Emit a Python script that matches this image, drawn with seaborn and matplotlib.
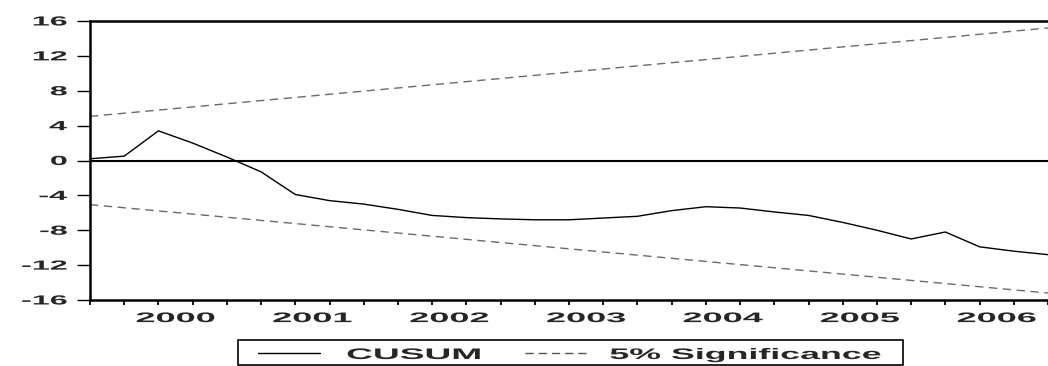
import numpy as np
import pandas as pd
import matplotlib
matplotlib.use('Agg')
import matplotlib.pyplot as plt
import seaborn as sns
from matplotlib.patheffects import AbstractPathEffect
from matplotlib.transforms import Affine2D
from matplotlib.lines import Line2D
from matplotlib.patches import Rectangle

# Quarterly observations
quarters = ['1999Q4',
            '2000Q1', '2000Q2', '2000Q3', '2000Q4',
            '2001Q1', '2001Q2', '2001Q3', '2001Q4',
            '2002Q1', '2002Q2', '2002Q3', '2002Q4',
            '2003Q1', '2003Q2', '2003Q3', '2003Q4',
            '2004Q1', '2004Q2', '2004Q3', '2004Q4',
            '2005Q1', '2005Q2', '2005Q3', '2005Q4',
            '2006Q1', '2006Q2', '2006Q3', '2006Q4']
cusum = [0.2, 0.5, 3.4, 2.0, 0.4, -1.3, -3.9, -4.6, -5.0, -5.6,
         -6.3, -6.55, -6.7, -6.8, -6.8, -6.6, -6.4, -5.75, -5.3, -5.45,
         -5.9, -6.3, -7.1, -8.0, -9.0, -8.2, -9.9, -10.4, -10.8]
# 5% bounds are straight lines: values at first and last quarter
bound_quarters = ['1999Q4', '2006Q4']
upper_bound = [5.06, 15.2]
lower_bound = [-5.06, -15.2]
year_labels = ['2000', '2001', '2002', '2003', '2004', '2005', '2006']
y_ticks = [-16, -12, -8, -4, 0, 4, 8, 12, 16]


class Stretch(AbstractPathEffect):
    """Widen text glyphs horizontally (the scan is stretched)."""
    def __init__(self, sx=2.4, anchor='center'):
        super().__init__()
        self.sx = sx
        self.anchor = anchor

    def draw_path(self, renderer, gc, tpath, affine, rgbFace=None):
        ext = tpath.get_extents(affine)
        if self.anchor == 'left':
            x0 = ext.x0
        elif self.anchor == 'right':
            x0 = ext.x1
        else:
            x0 = (ext.x0 + ext.x1) / 2
        aff = affine + Affine2D().translate(-x0, 0).scale(self.sx, 1).translate(x0, 0)
        renderer.draw_path(gc, tpath, aff, rgbFace)


pos = {q: i for i, q in enumerate(quarters)}
df = pd.DataFrame({'x': [pos[q] for q in quarters], 'cusum': cusum})
bounds = pd.DataFrame({'x': [pos[q] for q in bound_quarters],
                       'upper': upper_bound, 'lower': lower_bound})

sns.set_style('white')
plt.rcParams['font.family'] = ['Liberation Sans', 'DejaVu Sans']
plt.rcParams['font.weight'] = 'bold'

W, H = 1048, 366
fig = plt.figure(figsize=(W / 100, H / 100), dpi=100)
ax = fig.add_axes([90 / W, (H - 300) / H, (W - 90) / W, 279 / H])

ax.axhline(0, color='black', lw=1.5, zorder=1)
sns.lineplot(data=df, x='x', y='cusum', color='black', lw=1.0, ax=ax, zorder=3)
sns.lineplot(data=bounds, x='x', y='upper', color='#6a6a6a', lw=1.0,
             linestyle=(0, (6, 4)), ax=ax)
sns.lineplot(data=bounds, x='x', y='lower', color='#6a6a6a', lw=1.0,
             linestyle=(0, (6, 4)), ax=ax)

ax.set_xlim(0, (W - 90) / 34.5)
ax.set_ylim(-16, 16)
ax.set_xlabel('')
ax.set_ylabel('')

for side in ['left', 'top', 'bottom']:
    ax.spines[side].set_color('black')
    ax.spines[side].set_linewidth(1.8)
ax.spines['right'].set_visible(False)

# year labels centred on their four quarters
centers = [np.mean([pos[f'{y}Q{k}'] for k in range(1, 5)]) for y in year_labels]
ax.set_xticks(centers)
ax.set_xticklabels(year_labels)
ax.set_xticks(range(len(quarters)), minor=True)
ax.tick_params(axis='x', which='major', length=0, pad=8, labelsize=10)
ax.tick_params(axis='x', which='minor', direction='out', length=3.6, width=1.3,
               color='black', bottom=True)
ax.set_yticks(y_ticks)
ax.set_yticklabels([str(v) for v in y_ticks])
ax.tick_params(axis='y', direction='out', length=9.5, width=1.0, color='black',
               left=True, pad=7, labelsize=9.5)

for lab in ax.get_xticklabels():
    lab.set_path_effects([Stretch(2.6, 'center')])
for lab in ax.get_yticklabels():
    lab.set_path_effects([Stretch(2.45, 'right')])


# legend box drawn in figure pixels
def fx(x):
    return x / W


def fy(y):
    return 1 - y / H


fig.add_artist(Rectangle((fx(238), fy(365)), fx(903) - fx(238), fy(340) - fy(365),
                         transform=fig.transFigure, fill=False,
                         edgecolor='black', lw=1.2))
fig.add_artist(Line2D([fx(258), fx(320)], [fy(353), fy(353)],
                      transform=fig.transFigure, color='black', lw=1.0))
fig.add_artist(Line2D([fx(525), fx(590)], [fy(353), fy(353)],
                      transform=fig.transFigure, color='#555555', lw=1.0,
                      linestyle=(0, (6, 3.5))))
t1 = fig.text(fx(347), fy(359), 'CUSUM', fontsize=11, va='baseline', ha='left')
t2 = fig.text(fx(610), fy(359), '5% Significance', fontsize=11, va='baseline', ha='left')
t1.set_path_effects([Stretch(2.43, 'left')])
t2.set_path_effects([Stretch(2.34, 'left')])

fig.savefig('out.png', dpi=100)
